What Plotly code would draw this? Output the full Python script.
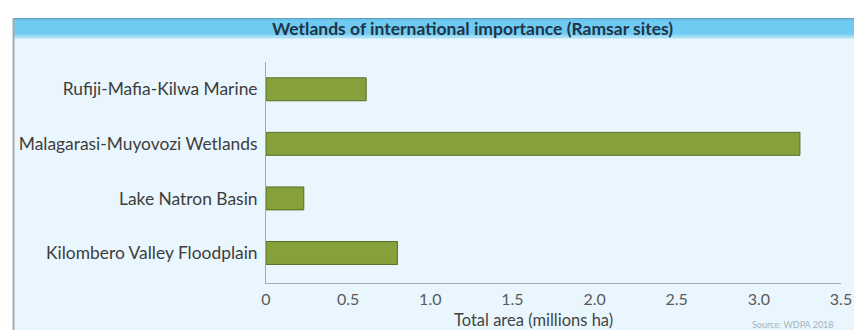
import plotly.graph_objects as go

categories = ["Kilombero Valley Floodplain", "Lake Natron Basin",
              "Malagarasi-Muyovozi Wetlands", "Rufiji-Mafia-Kilwa Marine"]
areas = [0.80, 0.23, 3.25, 0.61]
tick_vals = [0, 0.5, 1.0, 1.5, 2.0, 2.5, 3.0, 3.5]
tick_text = ["0", "0.5", "1.0", "1.5", "2.0", "2.5", "3.0", "3.5"]

W, H = 854, 330
L, R, T, B = 266, 13, 62, 47
pw, ph = W - L - R, H - T - B

def px(x):
    return (x - L) / pw

def py(y):
    return (H - B - y) / ph

FONT = "Lato"

fig = go.Figure(go.Bar(
    x=areas, y=categories, orientation="h",
    width=0.42,
    marker=dict(color="#86a13b", line=dict(color="#566f26", width=1)),
))

shapes = []
# background panel
shapes.append(dict(type="rect", xref="paper", yref="paper", x0=px(13), x1=px(854),
                   y0=py(330), y1=py(39), fillcolor="#e9f6fd", line=dict(width=0), layer="below"))
# title bar gradient
bar_cols = [(18, 19, "#5d9fbf"), (19, 21, "#6cc3ea"), (21, 34, "#70cbf3"),
            (34, 36, "#86d3f4"), (36, 38, "#a9e0f6"), (38, 39, "#cdeefa")]
for y0, y1, c in bar_cols:
    shapes.append(dict(type="rect", xref="paper", yref="paper", x0=px(13), x1=px(854),
                       y0=py(y1), y1=py(y0), fillcolor=c, line=dict(width=0), layer="below"))
# left border
shapes.append(dict(type="line", xref="paper", yref="paper", x0=px(13.5), x1=px(13.5),
                   y0=py(330), y1=py(18), line=dict(color="#a3abb2", width=2), layer="below"))

fig.update_layout(
    width=W, height=H, autosize=False,
    margin=dict(l=L, r=R, t=T, b=B, autoexpand=False),
    paper_bgcolor="white",
    plot_bgcolor="rgba(0,0,0,0)",
    showlegend=False,
    shapes=shapes,
    font=dict(family=FONT),
    xaxis=dict(range=[0, 3.5], tickvals=tick_vals, ticktext=tick_text,
               showgrid=False, zeroline=False, showline=True, linecolor="#a0a9b0",
               linewidth=1, ticks="", ticklabelstandoff=2,
               tickfont=dict(size=16, color="#5a5a5a"),
               fixedrange=True),
    yaxis=dict(categoryorder="array", categoryarray=categories, range=[-0.55, 3.5],
               showgrid=False, zeroline=False, showline=True, linecolor="#a0a9b0",
               linewidth=1, ticks="", ticklabelstandoff=4,
               tickfont=dict(size=17.4, color="#3d3d3d"), fixedrange=True),
    annotations=[
        dict(text="<b>Wetlands of international importance (Ramsar sites)</b>",
             xref="paper", yref="paper", x=px(472), y=py(28.5), showarrow=False,
             font=dict(size=17.5, color="#1f3446", family=FONT), xanchor="center", yanchor="middle"),
        dict(text="Total area (millions ha)", xref="paper", yref="paper",
             x=px(533), y=py(320), showarrow=False,
             font=dict(size=16.5, color="#444444", family=FONT), xanchor="center", yanchor="middle"),
        dict(text="Source: WDPA 2018", xref="paper", yref="paper",
             x=px(750), y=py(324), showarrow=False,
             font=dict(size=9, color="#a7b3bd", family=FONT), xanchor="left", yanchor="middle"),
    ],
)

fig.write_html(
    "out.html",
    config={"displayModeBar": False, "responsive": False},
    post_script="document.body.style.margin='0px';document.body.style.overflow='hidden';",
)
